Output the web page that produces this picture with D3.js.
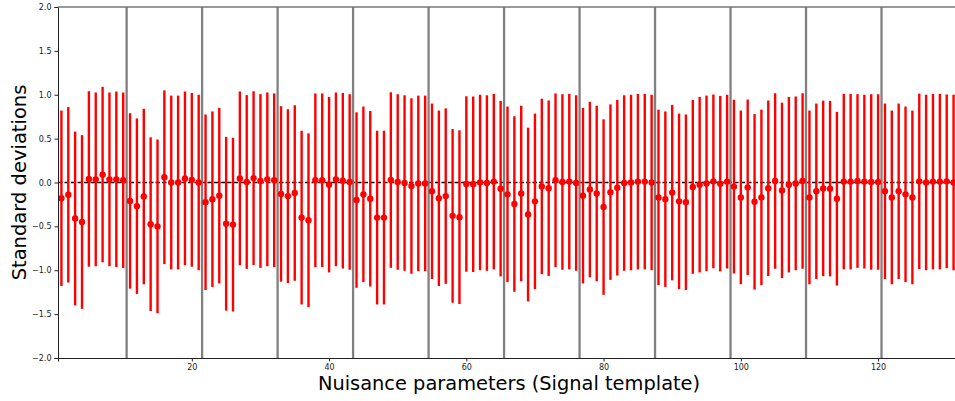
<!DOCTYPE html>
<html>
<head>
<meta charset="utf-8">
<script src="https://cdn.jsdelivr.net/npm/d3@7"></script>
<style>
  body { margin: 0; background: #fff; }
  svg { display: block; font-family: "DejaVu Sans", sans-serif; }
</style>
</head>
<body>
<div id="chart"></div>
<script>
// pulls (central values), one per nuisance parameter, index 1..131
const pulls = [
  -0.18, -0.14, -0.41, -0.45, 0.04, 0.036, 0.09, 0.036, 0.036, 0.025,
  -0.21, -0.27, -0.16, -0.475, -0.50, 0.06, 0.0, 0.0, 0.047, 0.03, 0.0,
  -0.225, -0.19, -0.15, -0.47, -0.48, 0.047, 0.006, 0.05, 0.017, 0.036, 0.025,
  -0.13, -0.155, -0.12, -0.40, -0.43, 0.025, 0.025, -0.025, 0.036, 0.02, 0.006,
  -0.20, -0.135, -0.185, -0.40, -0.40, 0.028, 0.006, -0.006, -0.04, -0.01, -0.01,
  -0.10, -0.18, -0.155, -0.38, -0.395, -0.017, -0.02, 0.0, -0.006, 0.01, -0.07,
  -0.135, -0.245, -0.125, -0.365, -0.215, -0.045, -0.065, 0.025, 0.006, 0.01, -0.006,
  -0.15, -0.08, -0.125, -0.28, -0.11, -0.06, -0.006, 0.0, 0.01, 0.01, 0.0,
  -0.17, -0.19, -0.115, -0.215, -0.225, -0.05, -0.025, -0.01, 0.013, -0.013, 0.01,
  -0.047, -0.17, -0.055, -0.22, -0.17, -0.065, 0.017, -0.09, -0.025, -0.01, 0.017,
  -0.17, -0.10, -0.067, -0.07, -0.185, 0.01, 0.01, 0.017, 0.01, 0.006, 0.006,
  -0.10, -0.17, -0.10, -0.135, -0.17, 0.013, 0.0, 0.01, 0.01, 0.013, 0.0
];

// post-fit uncertainties (half-length of each error bar)
const errors = [
  1.00, 1.00, 0.99, 0.99, 1.00, 0.99, 1.00, 0.99, 1.00, 1.00,
  1.00, 1.00, 1.00, 0.99, 0.99, 0.99, 0.99, 0.99, 0.99, 0.99, 1.00,
  1.00, 1.00, 1.00, 0.99, 0.99, 0.99, 0.99, 0.99, 0.99, 0.99, 0.99,
  1.00, 0.99, 1.00, 0.99, 0.99, 0.99, 0.99, 1.00, 0.99, 1.00, 1.00,
  1.00, 1.00, 1.00, 0.99, 0.99, 1.00, 1.00, 1.00, 1.00, 1.00, 1.00,
  1.00, 1.00, 1.00, 0.99, 0.99, 1.00, 1.00, 1.00, 1.00, 1.00, 1.00,
  1.00, 1.00, 1.00, 0.99, 1.00, 1.00, 1.00, 0.99, 1.00, 1.00, 1.00,
  1.00, 1.00, 1.00, 1.00, 1.00, 1.00, 1.00, 1.00, 1.00, 1.00, 1.00,
  1.00, 1.00, 1.00, 1.00, 1.00, 0.99, 1.00, 1.00, 0.99, 1.00, 0.99,
  0.99, 0.99, 1.00, 1.00, 1.00, 1.00, 1.00, 1.00, 1.00, 0.99, 1.00,
  0.99, 1.00, 1.00, 1.00, 0.99, 1.00, 1.00, 0.99, 0.99, 1.00, 1.00,
  1.00, 0.99, 1.00, 1.00, 0.99, 1.00, 1.00, 1.00, 1.00, 0.99, 1.00
];

// group separators (vertical gray lines)
const separators = [10.5, 21.5, 32.5, 43.5, 54.5, 65.5, 76.5, 87.5, 98.5, 109.5, 120.5];

const xTicks = [20, 40, 60, 80, 100, 120];
const yTicks = [-2.0, -1.5, -1.0, -0.5, 0.0, 0.5, 1.0, 1.5, 2.0];

const data = pulls.map((v, i) => ({ idx: i + 1, pull: v, err: errors[i] }));

const width = 955;
const height = 401;
const margin = { top: 7, right: -2, bottom: 43, left: 58 };
const innerWidth = width - margin.left - margin.right;
const innerHeight = height - margin.top - margin.bottom;

const xScale = d3.scaleLinear()
  .domain([0.5, 131.5])
  .range([0, innerWidth]);

const yScale = d3.scaleLinear()
  .domain([-2, 2])
  .range([innerHeight, 0]);

const svg = d3.select("#chart")
  .append("svg")
  .attr("width", width)
  .attr("height", height);

const innerChart = svg.append("g")
  .attr("transform", `translate(${margin.left},${margin.top})`);

// dashed zero line
innerChart.append("line")
  .attr("x1", 0)
  .attr("x2", innerWidth)
  .attr("y1", yScale(0))
  .attr("y2", yScale(0))
  .attr("stroke", "#000")
  .attr("stroke-width", 1.5)
  .attr("stroke-dasharray", "4.5,2");

// separators
innerChart.selectAll(".sep")
  .data(separators)
  .join("line")
    .attr("class", "sep")
    .attr("x1", d => xScale(d))
    .attr("x2", d => xScale(d))
    .attr("y1", 0)
    .attr("y2", innerHeight)
    .attr("stroke", "#808080")
    .attr("stroke-width", 2.3);

// error bars
innerChart.selectAll(".bar")
  .data(data)
  .join("line")
    .attr("class", "bar")
    .attr("x1", d => xScale(d.idx))
    .attr("x2", d => xScale(d.idx))
    .attr("y1", d => yScale(d.pull + d.err))
    .attr("y2", d => yScale(d.pull - d.err))
    .attr("stroke", "#ff0000")
    .attr("stroke-width", 2.4);

// central values
innerChart.selectAll(".dot")
  .data(data)
  .join("circle")
    .attr("class", "dot")
    .attr("cx", d => xScale(d.idx))
    .attr("cy", d => yScale(d.pull))
    .attr("r", 3.2)
    .attr("fill", "#ff0000");

// axes
const bottomAxis = d3.axisBottom(xScale).tickValues(xTicks).tickSize(3.5).tickPadding(3);
const leftAxis = d3.axisLeft(yScale).tickValues(yTicks).tickSize(3.5).tickPadding(3)
  .tickFormat(d3.format(".1f"));

const xAxisG = innerChart.append("g")
  .attr("transform", `translate(0,${innerHeight})`)
  .call(bottomAxis);
const yAxisG = innerChart.append("g")
  .call(leftAxis);

[xAxisG, yAxisG].forEach(g => {
  g.selectAll("text").attr("font-size", 8).attr("fill", "#222")
    .attr("font-family", "DejaVu Sans, sans-serif");
  g.select(".domain").attr("stroke", "#222");
  g.selectAll(".tick line").attr("stroke", "#222");
});
yAxisG.selectAll("text").text(d => d3.format(".1f")(d).replace("-", "\u2212"));

// top spine
innerChart.append("line")
  .attr("x1", 0)
  .attr("x2", innerWidth)
  .attr("y1", 0)
  .attr("y2", 0)
  .attr("stroke", "#777")
  .attr("stroke-width", 1.6);

// axis labels
svg.append("text")
  .text("Nuisance parameters (Signal template)")
  .attr("x", 509)
  .attr("y", 390)
  .attr("text-anchor", "middle")
  .attr("font-size", 19.4)
  .attr("fill", "#000");

svg.append("text")
  .text("Standard deviations")
  .attr("transform", `translate(26,${margin.top + innerHeight / 2}) rotate(-90)`)
  .attr("text-anchor", "middle")
  .attr("font-size", 19.5)
  .attr("fill", "#000");
</script>
</body>
</html>
